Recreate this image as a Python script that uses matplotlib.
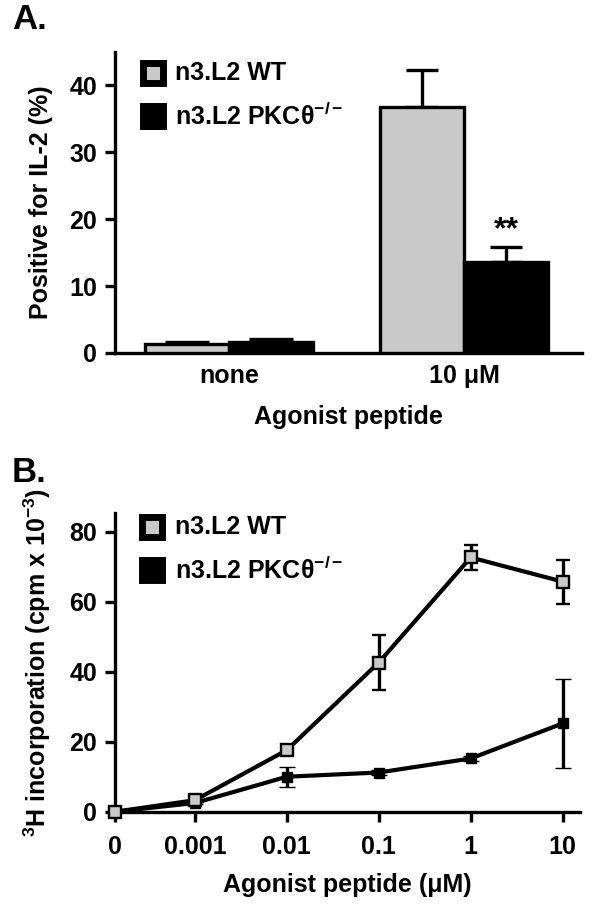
import numpy as np
import matplotlib
matplotlib.use("Agg")
import matplotlib.pyplot as plt

plt.rcParams['font.family'] = ['Liberation Sans', 'DejaVu Sans']
plt.rcParams['font.weight'] = 'bold'
plt.rcParams['mathtext.fontset'] = 'custom'
plt.rcParams['mathtext.rm'] = 'Liberation Sans:bold'
plt.rcParams['mathtext.it'] = 'Liberation Sans:bold'
plt.rcParams['mathtext.default'] = 'rm'

# panel A: IL-2 positive cells (%)
groups = ["none", "10 μM"]
wt_pct = [1.3, 36.8]
wt_pct_err = [0.3, 5.5]
ko_pct = [1.7, 13.6]
ko_pct_err = [0.4, 2.2]

# panel B: 3H incorporation (cpm x 1e-3)
dose_labels = ["0", "0.001", "0.01", "0.1", "1", "10"]
dose_pos = [-3.87, -3, -2, -1, 0, 1]   # log10 dose, "0" drawn at an axis break
wt_cpm = [0.0, 3.3, 17.6, 42.6, 72.6, 65.7]
wt_cpm_err = [0.0, 0.4, 0.8, 7.8, 3.5, 6.3]
ko_cpm = [0.0, 2.5, 10.0, 11.2, 15.2, 25.2]
ko_cpm_err = [0.0, 0.3, 2.9, 0.6, 0.6, 12.6]

wt_lbl = "n3.L2 WT"
ko_lbl = r"n3.L2 PKC$\theta^{-/-}$"
GRAY = "#c9c9c9"
FS = 18
LW = 2.4

fig = plt.figure(figsize=(6, 9.09), dpi=100)
axA = fig.add_axes([0.1917, 0.6117, 0.7778, 0.3315])
axB = fig.add_axes([0.1917, 0.1070, 0.7750, 0.3283])

def style(ax):
    for s in ("top", "right"):
        ax.spines[s].set_visible(False)
    for s in ("left", "bottom"):
        ax.spines[s].set_linewidth(LW)
    ax.tick_params(axis="y", length=7, width=LW, labelsize=FS, pad=6)

def key(ax, y, face, text):
    # legend square + label, placed in axes fraction
    ax.plot([0.0804], [y], transform=ax.transAxes, ls="none", marker="s",
            markersize=14.2, markerfacecolor=face, markeredgecolor="k",
            markeredgewidth=5, clip_on=False)
    ax.text(0.1286, y, text, transform=ax.transAxes, va="center", ha="left",
            fontsize=FS, fontweight="bold")

# ---- A ----
gap = 2.79
xc = np.arange(len(groups)) * gap
caps = [16, 11.5]
for i in range(len(groups)):
    axA.errorbar(xc[i] - 0.5, wt_pct[i], yerr=[[0], [wt_pct_err[i]]], fmt="none",
                 ecolor="k", elinewidth=LW, capsize=caps[i], capthick=LW, zorder=2)
    axA.errorbar(xc[i] + 0.5, ko_pct[i], yerr=[[0], [ko_pct_err[i]]], fmt="none",
                 ecolor="k", elinewidth=LW, capsize=caps[i], capthick=LW, zorder=2)
axA.bar(xc - 0.5, wt_pct, width=1.0, color=GRAY, edgecolor="k", linewidth=LW, zorder=3)
axA.bar(xc + 0.5, ko_pct, width=1.0, color="k", edgecolor="k", linewidth=LW, zorder=3)
axA.text(xc[1] + 0.5, ko_pct[1] + ko_pct_err[1] + 1.4, "**", ha="center", va="baseline",
         fontsize=23, fontweight="bold")
axA.set_xlim(-1.36, 4.19)
axA.set_ylim(0, 45)
axA.set_yticks([0, 10, 20, 30, 40])
axA.set_xticks(xc)
axA.set_xticklabels(groups)
style(axA)
axA.tick_params(axis="x", length=0, labelsize=FS, pad=8.2)
axA.set_ylabel("Positive for IL-2 (%)", fontsize=FS, fontweight="bold")
axA.set_xlabel("Agonist peptide", fontsize=FS, fontweight="bold")
axA.yaxis.set_label_coords(-0.1322, 0.5)
axA.xaxis.set_label_coords(0.5, -0.1726)
key(axA, 0.9276, GRAY, wt_lbl)
key(axA, 0.785, "k", ko_lbl)

# ---- B ----
axB.errorbar(dose_pos, ko_cpm, yerr=ko_cpm_err, color="k", lw=3.0, marker="s",
             markersize=7, markerfacecolor="k", markeredgecolor="k", markeredgewidth=1,
             ecolor="k", elinewidth=LW, capsize=6, capthick=LW, clip_on=False, zorder=3)
axB.errorbar(dose_pos, wt_cpm, yerr=wt_cpm_err, color="k", lw=3.0, marker="s",
             markersize=8, markerfacecolor=GRAY, markeredgecolor="k", markeredgewidth=1.7,
             ecolor="k", elinewidth=LW, capsize=5, capthick=LW, clip_on=False, zorder=4)
axB.set_xlim(-3.87, 1.19)
axB.set_ylim(0, 85.2)
axB.set_yticks([0, 20, 40, 60, 80])
axB.set_xticks(dose_pos)
axB.set_xticklabels(dose_labels)
style(axB)
axB.tick_params(axis="x", length=7, width=LW, labelsize=FS, pad=9.4)
axB.set_ylabel(r"$^{3}$H incorporation (cpm x 10$^{-3}$)", fontsize=FS, fontweight="bold")
axB.set_xlabel("Agonist peptide (μM)", fontsize=FS, fontweight="bold")
axB.yaxis.set_label_coords(-0.1327, 0.5)
axB.xaxis.set_label_coords(0.5, -0.2054)
key(axB, 0.9558, GRAY, wt_lbl)
key(axB, 0.81, "k", ko_lbl)

fig.text(0.0195, 0.9963, "A.", fontsize=25, fontweight="bold", va="top", ha="left")
fig.text(0.0195, 0.4979, "B.", fontsize=25, fontweight="bold", va="top", ha="left")

fig.savefig("out.png", dpi=100)
